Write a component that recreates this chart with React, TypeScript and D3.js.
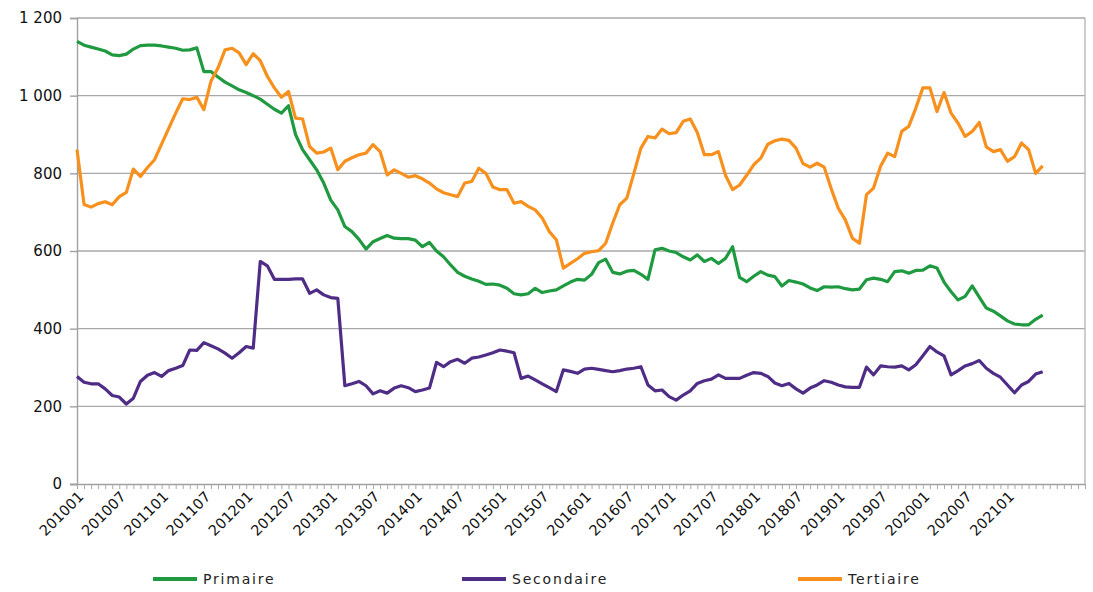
import React, { useEffect, useRef } from "react";
import * as d3 from "d3";

// monthly categories 201001 .. 202112 (axis runs past the data)
const months: string[] = d3
  .range(144)
  .map((i) => `${2010 + Math.floor(i / 12)}${String((i % 12) + 1).padStart(2, "0")}`);

const tickLabels = [
  "201001", "201007", "201101", "201107", "201201", "201207", "201301", "201307",
  "201401", "201407", "201501", "201507", "201601", "201607", "201701", "201707",
  "201801", "201807", "201901", "201907", "202001", "202007", "202101",
];

const yTicks = [0, 200, 400, 600, 800, 1000, 1200];

const primaire = [
  1140, 1130, 1125, 1120, 1115, 1105, 1103, 1107, 1120, 1129,
  1130, 1130, 1128, 1125, 1122, 1117, 1118, 1123, 1062, 1062,
  1048, 1035, 1025, 1015, 1008, 1000, 991, 978, 965, 955,
  974, 900, 861, 835, 809, 775, 731, 706, 663, 650,
  630, 605, 624, 632, 640, 633, 632, 632, 628, 611,
  622, 600, 585, 564, 545, 535, 528, 522, 514, 515,
  512, 504, 490, 487, 490, 504, 493, 497, 500, 510,
  520, 527, 525, 540, 570, 579, 545, 541, 548, 550,
  540, 527, 603, 607, 600, 596, 585, 577, 590, 573,
  581, 568, 581, 611, 532, 521, 535, 547, 538, 534,
  510, 524, 520, 515, 505, 498, 508, 507, 508, 503,
  500, 502, 526, 530, 527, 521, 547, 549, 543, 550,
  551, 562, 556, 520, 495, 474, 483, 510, 481, 453,
  445, 433, 420, 412, 410, 410, 424, 435,
];

const secondaire = [
  277, 262, 258, 258, 245, 228, 224, 206, 221, 264,
  280, 287, 277, 292, 298, 305, 345, 344, 364, 356,
  348, 337, 324, 338, 354, 350, 573, 562, 527, 527,
  527, 528, 528, 491, 500, 487, 480, 478, 253, 258,
  264, 253, 232, 240, 234, 247, 253, 248, 238, 242,
  247, 313, 302, 315, 321, 311, 324, 327, 332, 338,
  345, 342, 338, 272, 278, 268, 258, 248, 238, 294,
  290, 285, 296, 298, 295, 292, 289, 292, 296, 298,
  302, 255, 240, 242, 225, 216, 229, 240, 259, 266,
  270, 281, 272, 272, 272, 280, 287, 285, 277, 260,
  253, 259, 245, 234, 247, 255, 266, 262, 255, 250,
  249, 249, 301, 281, 304, 302, 301, 304, 294, 307,
  330, 354, 340, 330, 281, 292, 304, 310, 318, 298,
  285, 275, 255, 235, 255, 264, 283, 289,
];

const tertiaire = [
  861, 720, 713, 722, 727, 719, 740, 751, 811, 792,
  815, 835, 875, 915, 955, 992, 990, 996, 964, 1037,
  1071, 1118, 1122, 1110, 1080, 1108, 1090, 1050, 1020, 996,
  1011, 942, 940, 869, 852, 855, 865, 809, 831, 840,
  848, 852, 874, 856, 796, 809, 800, 790, 794, 786,
  775, 760, 750, 745, 740, 775, 779, 813, 800, 765,
  758, 758, 723, 727, 715, 706, 685, 650, 629, 556,
  568, 580, 594, 598, 601, 620, 672, 719, 736, 800,
  865, 895, 891, 914, 902, 905, 934, 940, 905, 848,
  848, 856, 795, 758, 770, 795, 822, 839, 875, 884,
  888, 885, 865, 825, 816, 826, 816, 760, 710, 680,
  633, 620, 745, 762, 818, 852, 843, 908, 921, 968,
  1020, 1020, 959, 1008, 955, 929, 895, 908, 931, 868,
  856, 861, 831, 843, 878, 861, 800, 819,
];

const series = [
  { name: "Primaire", values: primaire, color: "#1f9a40" },
  { name: "Secondaire", values: secondaire, color: "#4f2d86" },
  { name: "Tertiaire", values: tertiaire, color: "#f7901c" },
];

const W = 1093;
const H = 592;
const left = 77;
const right = 1085;
const top = 18;
const bottom = 484;

const frFormat = d3
  .formatLocale({ decimal: ",", thousands: " ", grouping: [3], currency: ["", " €"] })
  .format(",");

const App: React.FC = () => {
  const svgRef = useRef<SVGSVGElement>(null);

  useEffect(() => {
    const svg = d3.select(svgRef.current).attr("width", W).attr("height", H);
    svg.selectAll("*").remove();

    svg.append("rect").attr("width", W).attr("height", H).attr("fill", "#fff");

    const x = d3.scalePoint<string>().domain(months).range([left, right]);
    const y = d3.scaleLinear().domain([0, 1200]).range([bottom, top]);

    // gridlines
    svg
      .append("g")
      .selectAll("line")
      .data(yTicks.filter((d) => d > 0))
      .enter()
      .append("line")
      .attr("x1", left)
      .attr("x2", right)
      .attr("y1", (d) => y(d))
      .attr("y2", (d) => y(d))
      .attr("stroke", "#a8a8a8")
      .attr("stroke-width", 1.4);

    // right border
    svg
      .append("line")
      .attr("x1", right)
      .attr("x2", right)
      .attr("y1", y(1200))
      .attr("y2", y(0))
      .attr("stroke", "#b8b8b8")
      .attr("stroke-width", 1.4);

    // y axis
    const yAxis = d3
      .axisLeft(y)
      .tickValues(yTicks)
      .tickSize(7)
      .tickPadding(8)
      .tickFormat((d) => frFormat(d as number));
    const gy = svg.append("g").attr("transform", `translate(${left},0)`).call(yAxis);
    gy.select(".domain").attr("stroke", "#a0a0a0").attr("stroke-width", 1.4);
    gy.selectAll(".tick line").attr("stroke", "#a0a0a0").attr("stroke-width", 1.4);
    gy.selectAll("text")
      .attr("font-family", "DejaVu Sans, sans-serif")
      .attr("font-size", 15)
      .attr("fill", "#111");

    // x axis with monthly ticks
    const xAxis = d3.axisBottom(x).tickValues(months).tickSize(5).tickFormat(() => "");
    const gx = svg.append("g").attr("transform", `translate(0,${bottom})`).call(xAxis);
    gx.select(".domain").attr("stroke", "#a0a0a0").attr("stroke-width", 1.4).attr("d", `M${left - 7},0.5H${right}`);
    gx.selectAll(".tick line").attr("stroke", "#a8a8a8").attr("stroke-width", 1);

    // rotated month labels every 6 months (45°, written as a matrix)
    const c = Math.SQRT1_2;
    svg
      .append("g")
      .selectAll("text")
      .data(tickLabels)
      .enter()
      .append("text")
      .attr("transform", (d) => `matrix(${c},${-c},${c},${c},${(x(d) as number) + 4},${bottom + 10})`)
      .attr("text-anchor", "end")
      .attr("font-family", "DejaVu Sans, sans-serif")
      .attr("font-size", 14.5)
      .attr("fill", "#111")
      .attr("dy", "0.35em")
      .text((d) => d);

    // lines
    const line = d3
      .line<number>()
      .x((d, i) => x(months[i]) as number)
      .y((d) => y(d));

    series.forEach((s) => {
      svg
        .append("path")
        .datum(s.values)
        .attr("d", line)
        .attr("fill", "none")
        .attr("stroke", s.color)
        .attr("stroke-width", 3.2)
        .attr("stroke-linejoin", "round");
    });

    // legend
    const legendX = [153, 462, 798];
    const legend = svg
      .append("g")
      .selectAll("g")
      .data(series)
      .enter()
      .append("g")
      .attr("transform", (d, i) => `translate(${legendX[i]},579)`);
    legend
      .append("line")
      .attr("x1", 0)
      .attr("x2", 44)
      .attr("stroke", (d) => d.color)
      .attr("stroke-width", 4);
    legend
      .append("text")
      .attr("x", 50)
      .attr("dy", "0.35em")
      .attr("font-family", "DejaVu Sans, sans-serif")
      .attr("font-size", 14)
      .attr("letter-spacing", 1.8)
      .attr("fill", "#222")
      .text((d) => d.name);

    return () => {
      svg.selectAll("*").remove();
    };
  }, []);

  return <svg ref={svgRef} style={{ position: "absolute", left: 0, top: 0 }} />;
};

export default App;
